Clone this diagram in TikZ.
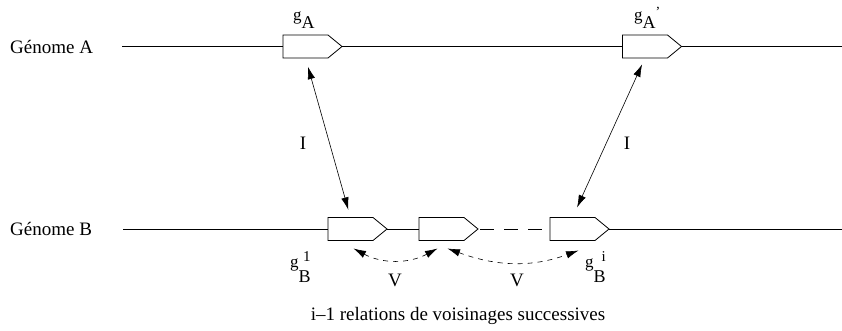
\documentclass[tikz,border=0pt]{standalone}
\usepackage{fontspec}
\setmainfont{Liberation Serif}
\usetikzlibrary{arrows.meta,calc}
\begin{document}
\begin{tikzpicture}[x=1pt,y=-1pt,
  genebody/.style={minimum width=45pt,minimum height=23pt,inner sep=0pt,outer sep=0pt},
  gline/.style={line width=0.8pt},
  tipA/.tip={Latex[length=12.5pt,width=7.5pt]},
  rel/.style={line width=0.6pt,tipA-tipA},
  vrel/.style={line width=0.6pt,dash pattern=on 5pt off 5pt,tipA-tipA},
  txt/.style={font=\fontsize{19}{22}\selectfont,inner sep=0pt},
  glab/.style={font=\fontsize{18}{21}\selectfont,inner sep=0pt,anchor=base west},
]
\useasboundingbox (0,0) rectangle (842,331);
% genes
\node[genebody] (gA)  at (305.5,46.5) {};
\node[genebody] (gAp) at (645,46.5) {};
\node[genebody] (b1)  at (350.5,229) {};
\node[genebody] (b2)  at (441.5,229) {};
\node[genebody] (bi)  at (572.5,229) {};
\foreach \n in {gA,gAp,b1,b2,bi}{
  \coordinate (\n tip) at ($(\n.east)+(14,0)$);
  \draw[gline] (\n.north west) -- (\n.north east) -- (\n tip) -- (\n.south east) -- (\n.south west) -- cycle;
}
% genome lines
\coordinate (aL) at (122,46.5);
\coordinate (aR) at (842,46.5);
\coordinate (bL) at (123,229);
\coordinate (bR) at (842,229);
\draw[gline] (aL) -- (gA.west);
\draw[gline] (gAtip) -- (gAp.west);
\draw[gline] (gAptip) -- (aR);
\draw[gline] (bL) -- (b1.west);
\draw[gline] (b1tip) -- (b2.west);
\draw[gline,dash pattern=on 14pt off 10pt,dash phase=-2pt] (b2tip) -- (bi.west);
\draw[gline] (bitip) -- (bR);
% labels
\node[txt,anchor=west] (lA) at (10,46.5) {Génome A};
\node[txt,anchor=west] (lB) at (10,229) {Génome B};
\node[txt] (foot) at (458,316) {i–1 relations de voisinages successives};
% relations I
\draw[rel,shorten <=9pt,shorten >=8pt] (gA.south) -- (b1.north);
\draw[rel,shorten <=7pt,shorten >=11pt] (gAp.south) -- (bi.north);
\node[txt] (i1) at (303,143) {I};
\node[txt] (i2) at (627,143) {I};
% relations V
\coordinate (v1a) at ($(b1.south)+(3,8)$);
\coordinate (v1b) at ($(b2.south)+(-4,8)$);
\coordinate (v2a) at ($(b2.south)+(6,8)$);
\coordinate (v2b) at ($(bi.south)+(6,10)$);
\draw[vrel] (v1a) to[out=-28,in=-152] (v1b);
\draw[vrel] (v2a) to[out=-20,in=-160] (v2b);
\node[txt] (vl1) at (395,280) {V};
\node[txt] (vl2) at (517,280) {V};
% gene names
\node[glab] (nA)  at (293,29) {\raisebox{8pt}{\fontsize{17}{20}\selectfont g}A};
\node[glab] (nAp) at (634,29) {\raisebox{8pt}{\fontsize{17}{20}\selectfont g}A\raisebox{12pt}{\fontsize{14}{16}\selectfont ’}};
\node[glab] (nB1) at (290,282) {\raisebox{15pt}{\fontsize{17}{20}\selectfont g}B\llap{\raisebox{21pt}{\fontsize{15}{18}\selectfont 1}}};
\node[glab] (nBi) at (585,282) {\raisebox{15pt}{\fontsize{17}{20}\selectfont g}B\llap{\raisebox{21pt}{\fontsize{15}{18}\selectfont i}}};
\end{tikzpicture}
\end{document}
